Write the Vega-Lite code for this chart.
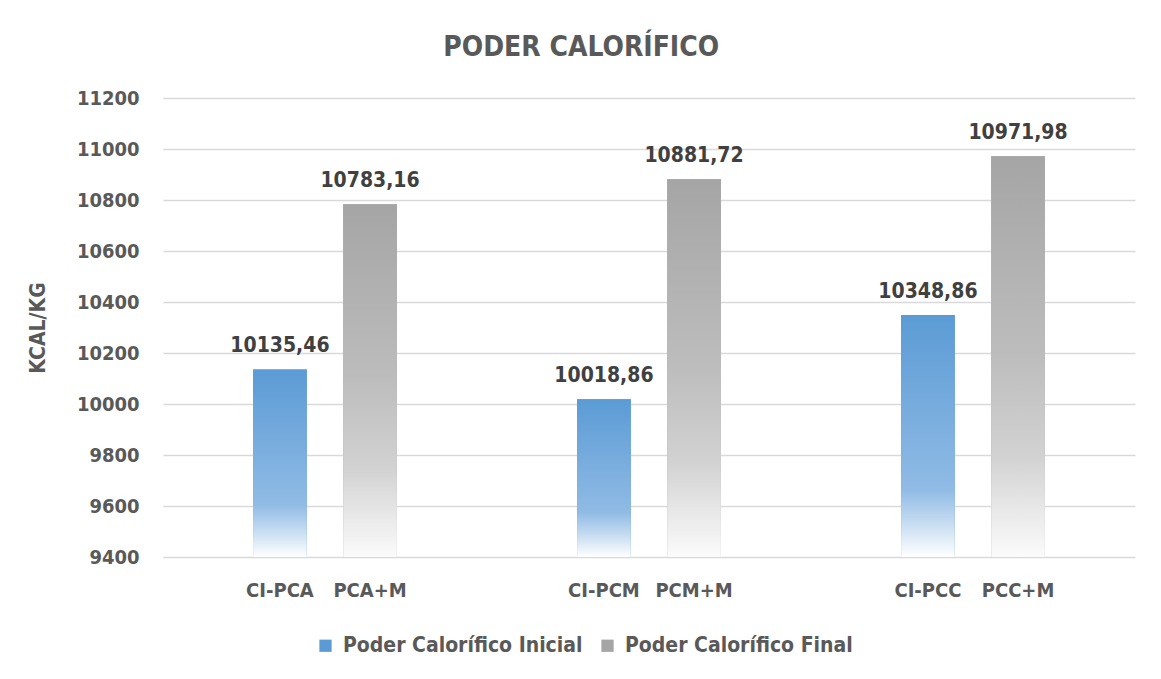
{
  "$schema": "https://vega.github.io/schema/vega-lite/v6.json",
  "width": 972,
  "height": 459,
  "autosize": {"type": "none"},
  "padding": {"left": 163, "top": 98, "right": 26, "bottom": 122},
  "background": "white",
  "title": {
    "text": "PODER CALORÍFICO",
    "anchor": "middle",
    "frame": "bounds",
    "font": "DejaVu Sans Condensed, sans-serif",
    "fontSize": 28,
    "fontWeight": "bold",
    "color": "#595959",
    "offset": 26
  },
  "config": {
    "view": {"stroke": null},
    "font": "DejaVu Sans Condensed, sans-serif"
  },
  "data": {
    "values": [
      {"grp": "PCA", "series": "Poder Calorífico Inicial", "cat": "CI-PCA", "value": 10135.46, "label": "10135,46"},
      {"grp": "PCA", "series": "Poder Calorífico Final", "cat": "PCA+M", "value": 10783.16, "label": "10783,16"},
      {"grp": "PCM", "series": "Poder Calorífico Inicial", "cat": "CI-PCM", "value": 10018.86, "label": "10018,86"},
      {"grp": "PCM", "series": "Poder Calorífico Final", "cat": "PCM+M", "value": 10881.72, "label": "10881,72"},
      {"grp": "PCC", "series": "Poder Calorífico Inicial", "cat": "CI-PCC", "value": 10348.86, "label": "10348,86"},
      {"grp": "PCC", "series": "Poder Calorífico Final", "cat": "PCC+M", "value": 10971.98, "label": "10971,98"}
    ]
  },
  "encoding": {
    "x": {
      "field": "grp",
      "type": "nominal",
      "sort": ["PCA", "PCM", "PCC"],
      "scale": {"domain": ["PCA", "PCM", "PCC"], "paddingInner": 0, "paddingOuter": 0},
      "axis": null
    },
    "xOffset": {
      "field": "series",
      "type": "nominal",
      "scale": {"domain": ["Poder Calorífico Inicial", "Poder Calorífico Final"], "paddingInner": 0.404, "paddingOuter": 1.022}
    }
  },
  "layer": [
    {
      "mark": {"type": "bar"},
      "encoding": {
        "y": {
          "field": "value",
          "type": "quantitative",
          "scale": {"domain": [9400, 11200], "zero": false, "nice": false},
          "axis": {
            "title": "KCAL/KG",
            "values": [9400, 9600, 9800, 10000, 10200, 10400, 10600, 10800, 11000, 11200],
            "format": "d",
            "domain": false,
            "ticks": false,
            "grid": true,
            "gridColor": "#d9d9d9",
            "gridWidth": 1.5,
            "labelFontSize": 20,
            "labelFontWeight": "bold",
            "labelColor": "#595959",
            "labelPadding": 24,
            "titleFontSize": 21,
            "titleFontWeight": "bold",
            "titleColor": "#595959",
            "titlePadding": 28
          }
        },
        "y2": {"datum": 9400},
        "color": {
          "field": "series",
          "type": "nominal",
          "scale": {"domain": ["Poder Calorífico Inicial", "Poder Calorífico Final"], "range": ["#5b9bd5", "#a5a5a5"]},
          "legend": {
            "title": null,
            "orient": "none",
            "direction": "horizontal",
            "legendX": 152,
            "legendY": 537,
            "symbolType": "square",
            "symbolSize": 150,
            "symbolStrokeWidth": 0,
            "labelFontSize": 21,
            "labelFontWeight": "bold",
            "labelColor": "#595959",
            "labelOffset": 7,
            "labelLimit": 400,
            "columnPadding": 14
          }
        }
      }
    },
    {
      "transform": [{"filter": "datum.series === 'Poder Calorífico Inicial'"}],
      "mark": {
        "type": "bar",
        "color": {
          "gradient": "linear",
          "x1": 0, "y1": 0, "x2": 0, "y2": 1,
          "stops": [
            {"offset": 0, "color": "#5b9bd5"},
            {"offset": 0.72, "color": "#90bbe5"},
            {"offset": 0.86, "color": "#c6dcf1"},
            {"offset": 1, "color": "#ffffff"}
          ]
        }
      },
      "encoding": {
        "y": {"field": "value", "type": "quantitative"},
        "y2": {"datum": 9400}
      }
    },
    {
      "transform": [{"filter": "datum.series === 'Poder Calorífico Final'"}],
      "mark": {
        "type": "bar",
        "color": {
          "gradient": "linear",
          "x1": 0, "y1": 0, "x2": 0, "y2": 1,
          "stops": [
            {"offset": 0, "color": "#a5a5a5"},
            {"offset": 0.5, "color": "#bdbdbd"},
            {"offset": 0.75, "color": "#d2d2d2"},
            {"offset": 0.9, "color": "#ebebeb"},
            {"offset": 1, "color": "#fbfbfb"}
          ]
        }
      },
      "encoding": {
        "y": {"field": "value", "type": "quantitative"},
        "y2": {"datum": 9400}
      }
    },
    {
      "mark": {"type": "text", "baseline": "bottom", "dy": -13, "fontSize": 21, "fontWeight": "bold", "color": "#404040"},
      "encoding": {
        "y": {"field": "value", "type": "quantitative"},
        "text": {"field": "label", "type": "nominal"}
      }
    },
    {
      "mark": {"type": "text", "baseline": "middle", "dy": 34, "fontSize": 20, "fontWeight": "bold", "color": "#595959"},
      "encoding": {
        "y": {"datum": 9400},
        "text": {"field": "cat", "type": "nominal"}
      }
    }
  ]
}
